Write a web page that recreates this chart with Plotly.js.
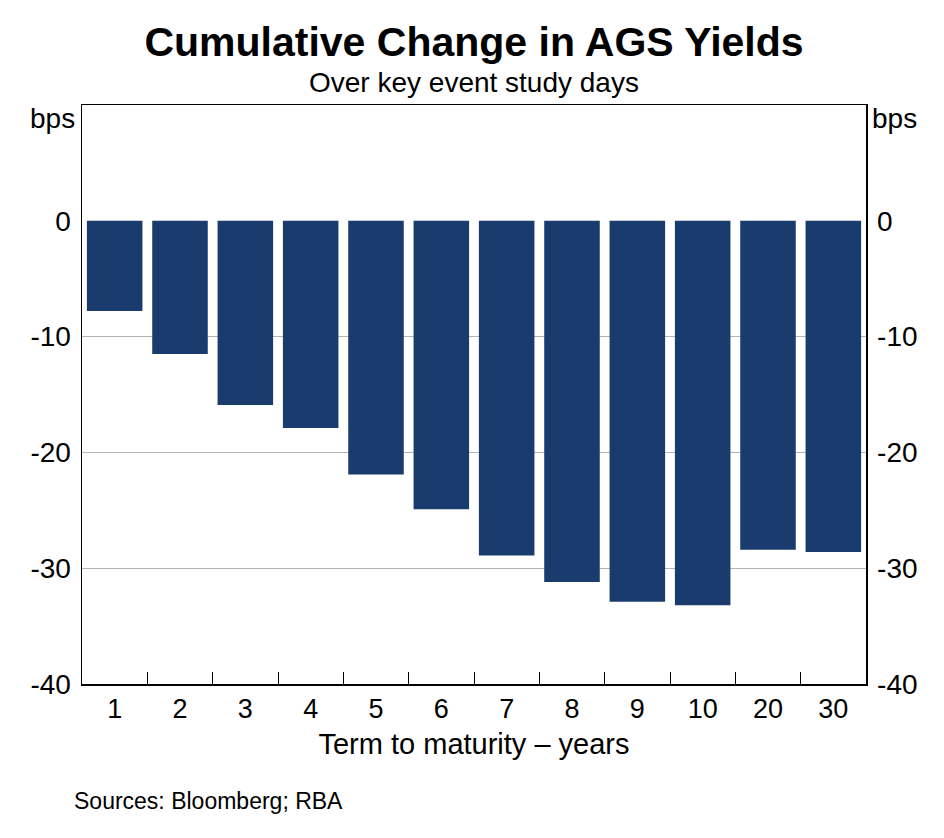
<!DOCTYPE html>
<html>
<head>
<meta charset="utf-8">
<script src="https://cdn.plot.ly/plotly-3.0.1.min.js"></script>
<style>html,body{margin:0;padding:0;background:#fff;}#chart{width:944px;height:838px;}</style>
</head>
<body>
<div id="chart"></div>
<script>
const categories = ["1","2","3","4","5","6","7","8","9","10","20","30"];
const changeBps = [-7.8, -11.5, -15.9, -17.9, -21.9, -24.9, -28.9, -31.2, -32.9, -33.2, -28.4, -28.6];
const yTicks = [-40, -30, -20, -10, 0];

const FONT = "Arial, 'Liberation Sans', sans-serif";

const trace = {
  type: "bar",
  x: categories,
  y: changeBps,
  marker: {color: "#1a3b6d", line: {width: 0}},
  hoverinfo: "x+y"
};

const layout = {
  width: 944, height: 838,
  margin: {l: 82, r: 78, t: 105, b: 154},
  paper_bgcolor: "#ffffff", plot_bgcolor: "#ffffff",
  font: {family: FONT, color: "#000", size: 28},
  showlegend: false,
  bargap: 0.15,
  title: {
    text: "<b>Cumulative Change in AGS Yields</b>",
    font: {family: FONT, size: 41, color: "#000"},
    x: 0.5, xref: "paper", xanchor: "center",
    y: 0.95, yref: "container", yanchor: "middle"
  },
  xaxis: {
    type: "category",
    range: [-0.5, 11.5], autorange: false,
    showline: true, linecolor: "#000", linewidth: 1.5, mirror: true,
    ticks: "inside", tickson: "boundaries", ticklen: 12, tickcolor: "#000", tickwidth: 1,
    showgrid: false,
    tickfont: {size: 27},
    title: {text: "Term to maturity – years", font: {size: 29}, standoff: 11}
  },
  yaxis: {
    range: [-40, 10], autorange: false,
    tickvals: yTicks,
    ticktext: yTicks.map(String),
    showline: true, linecolor: "#000", linewidth: 1.5,
    ticks: "", showgrid: true, gridcolor: "#b4b4b4", gridwidth: 1,
    zeroline: true, zerolinecolor: "#ffffff", zerolinewidth: 1,
    tickfont: {size: 28},
    ticklabelstandoff: 4
  },
  yaxis2: {
    range: [-40, 10], autorange: false,
    overlaying: "y", side: "right", anchor: "x",
    tickvals: yTicks,
    ticktext: yTicks.map(String),
    showline: true, linecolor: "#000", linewidth: 1.5,
    ticks: "", showgrid: false, zeroline: false,
    tickfont: {size: 28},
    ticklabelstandoff: 4
  },
  annotations: [
    {text: "Over key event study days", xref: "paper", yref: "paper", x: 0.5, y: 1.0, yshift: 23,
     xanchor: "center", yanchor: "middle", showarrow: false, font: {size: 28}},
    {text: "bps", xref: "paper", yref: "paper", x: 0, xshift: -5, y: 0.977, xanchor: "right", yanchor: "middle",
     showarrow: false, font: {size: 28}},
    {text: "bps", xref: "paper", yref: "paper", x: 1, xshift: 4, y: 0.977, xanchor: "left", yanchor: "middle",
     showarrow: false, font: {size: 28}},
    {text: "Sources: Bloomberg; RBA", xref: "paper", yref: "paper", x: 0, xshift: -10, y: 0, yshift: -117,
     xanchor: "left", yanchor: "middle", showarrow: false, font: {size: 23}}
  ]
};

const dummy = {type: "scatter", x: [categories[0]], y: [null], yaxis: "y2", hoverinfo: "skip", showlegend: false};

Plotly.newPlot("chart", [trace, dummy], layout, {displayModeBar: false, staticPlot: true});
</script>
</body>
</html>
